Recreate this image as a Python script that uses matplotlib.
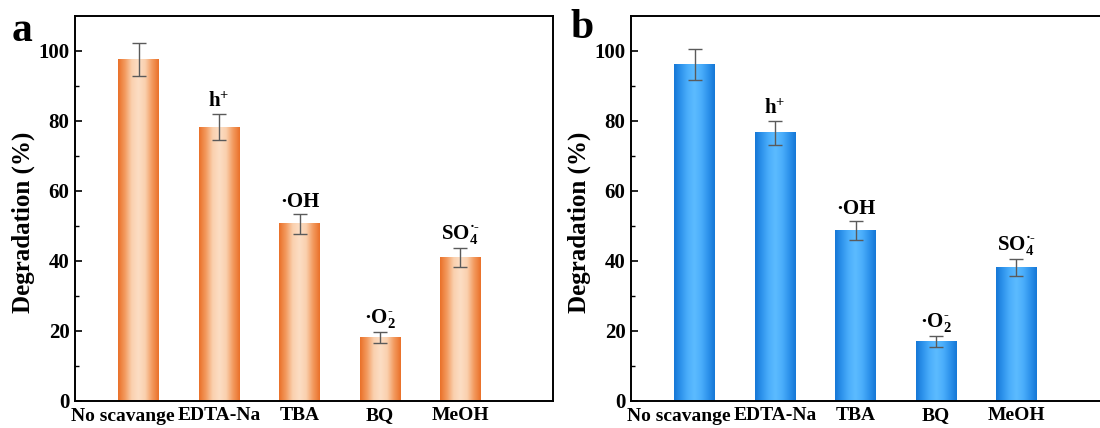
import numpy as np
import matplotlib
matplotlib.use("Agg")
import matplotlib.pyplot as plt
from matplotlib.colors import LinearSegmentedColormap

plt.rcParams["font.family"] = ["Liberation Serif", "DejaVu Serif"]
plt.rcParams["font.weight"] = "bold"
plt.rcParams["mathtext.fontset"] = "custom"
plt.rcParams["mathtext.rm"] = "Liberation Serif:bold"
plt.rcParams["mathtext.it"] = "Liberation Serif:bold"
plt.rcParams["mathtext.bf"] = "Liberation Serif:bold"

# Scavenger experiment data
categories = ["No scavange", "EDTA-Na", "TBA", "BQ", "MeOH"]
species = [None, "h$^{+}$", "·OH", "·O$_2^{\\text{-}}$", "SO$_4^{·\\text{-}}$"]

deg_a = [97.5, 78.2, 50.6, 18.1, 41.0]
err_a = [4.7, 3.7, 2.8, 1.6, 2.8]

deg_b = [96.1, 76.6, 48.7, 16.9, 38.1]
err_b = [4.4, 3.4, 2.6, 1.6, 2.5]

orange_cmap = LinearSegmentedColormap.from_list(
    "orange_bar", ["#EA7028", "#F39A5E", "#FAD0AE", "#FCDDC4", "#FAD0AE", "#F39A5E", "#EA7028"])
blue_cmap = LinearSegmentedColormap.from_list(
    "blue_bar", ["#1577D6", "#2E93EC", "#4BAEFB", "#5CBBFF", "#4BAEFB", "#2E93EC", "#1577D6"])

fig = plt.figure(figsize=(11.0, 4.28), dpi=100)
W, H = 1100.0, 428.0
ax_w = 478 / W
ax_a = fig.add_axes([75 / W, 1 - 401 / H, ax_w, (401 - 16) / H])
ax_b = fig.add_axes([631 / W, 1 - 401 / H, ax_w, (401 - 16) / H])


def draw_panel(ax, values, errors, cmap, letter, letter_xy):
    x = np.arange(1, len(categories) + 1)
    bars = ax.bar(x, values, width=0.5, color="none", edgecolor="none", zorder=2)
    grad = np.linspace(0, 1, 256).reshape(1, -1)
    for b in bars:
        x0, y0 = b.get_x(), b.get_y()
        ax.imshow(grad, cmap=cmap, aspect="auto", interpolation="bicubic",
                  extent=(x0, x0 + b.get_width(), y0, y0 + b.get_height()), zorder=2)
    ax.errorbar(x, values, yerr=errors, fmt="none", ecolor="#5a5a5a",
                elinewidth=1.0, capsize=5, capthick=1.0, zorder=3)
    for xi, v, e, s in zip(x, values, errors, species):
        if s is None:
            continue
        ax.annotate(s, (xi, v + e), xytext=(0, 1.5), textcoords="offset points",
                    ha="center", va="bottom", fontsize=15, fontweight="bold")
    ax.set_xlim(0.21, 6.15)
    ax.set_ylim(0, 110)
    ax.set_xticks(x)
    # the long first label sits a little left of its bar so it clears its neighbour
    ax.set_xticklabels([""] + categories[1:], fontsize=14, fontweight="bold")
    ax.annotate(categories[0], xy=(x[0], 0), xycoords=ax.get_xaxis_transform(),
                xytext=(-11, -4.7), textcoords="offset points",
                ha="center", va="top", fontsize=14, fontweight="bold")
    ax.set_yticks([0, 20, 40, 60, 80, 100])
    ax.set_yticks(np.arange(10, 110, 20), minor=True)
    ax.tick_params(axis="y", which="major", direction="in", length=5, width=1.2,
                   labelsize=15, pad=4)
    ax.tick_params(axis="y", which="minor", direction="in", length=3, width=1.0)
    ax.tick_params(axis="x", length=0, pad=4)
    for lbl in ax.get_yticklabels():
        lbl.set_fontweight("bold")
    ax.set_ylabel("Degradation (%)", fontsize=18, fontweight="bold")
    ax.yaxis.set_label_coords(-0.083, 0.465)
    for sp in ax.spines.values():
        sp.set_linewidth(1.4)
    fig.text(letter_xy[0] / W, 1 - letter_xy[1] / H, letter, fontsize=30,
             fontweight="bold", ha="left", va="baseline")


draw_panel(ax_a, deg_a, err_a, orange_cmap, "a", (12, 41))
draw_panel(ax_b, deg_b, err_b, blue_cmap, "b", (570, 38))

fig.savefig("out.png", dpi=100)
